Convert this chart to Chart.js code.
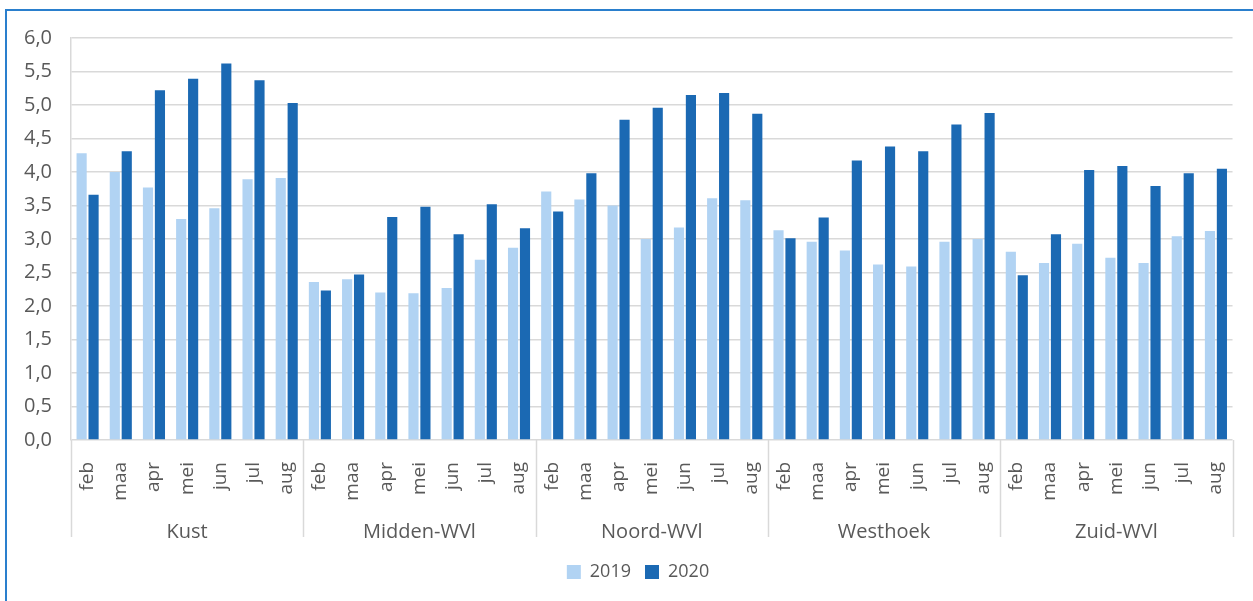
<!DOCTYPE html>
<html>
<head>
<meta charset="utf-8">
<script src="https://cdn.jsdelivr.net/npm/chart.js@4.4.1/dist/chart.umd.min.js"></script>
<style>
  html, body { margin: 0; padding: 0; background: #ffffff; }
  #wrap { position: relative; width: 1253px; height: 601px; overflow: hidden; }
  #frame { position: absolute; left: 5px; top: 9px; width: 1260px; height: 620px; border-left: 2px solid #2a7fcd; border-top: 2px solid #2a7fcd; box-sizing: border-box; pointer-events: none; }
  canvas { position: absolute; left: 0; top: 0; }
</style>
</head>
<body>
<div id="wrap">
  <canvas id="c" width="1253" height="601"></canvas>
  <div id="frame"></div>
</div>
<script>
const groups = ['Kust', 'Midden-WVl', 'Noord-WVl', 'Westhoek', 'Zuid-WVl'];
const months = ['feb', 'maa', 'apr', 'mei', 'jun', 'jul', 'aug'];
const seriesNames = ['2019', '2020'];
const values2019 = [
  4.28, 4.00, 3.77, 3.30, 3.46, 3.89, 3.91,
  2.36, 2.40, 2.20, 2.19, 2.27, 2.69, 2.87,
  3.71, 3.59, 3.50, 3.00, 3.17, 3.61, 3.58,
  3.13, 2.96, 2.83, 2.62, 2.59, 2.96, 3.00,
  2.81, 2.64, 2.93, 2.72, 2.64, 3.04, 3.12
];
const values2020 = [
  3.66, 4.31, 5.22, 5.39, 5.62, 5.37, 5.03,
  2.23, 2.47, 3.33, 3.48, 3.07, 3.52, 3.16,
  3.41, 3.98, 4.78, 4.96, 5.15, 5.18, 4.87,
  3.01, 3.32, 4.17, 4.38, 4.31, 4.71, 4.88,
  2.46, 3.07, 4.03, 4.09, 3.79, 3.98, 4.05
];
const yTicks = [0, 0.5, 1, 1.5, 2, 2.5, 3, 3.5, 4, 4.5, 5, 5.5, 6];

const labels = [];
groups.forEach(g => months.forEach(m => labels.push(m)));

const FONT = "'Open Sans', 'Noto Sans', sans-serif";
const TXT = '#595959';
const GRID = '#d9d9d9';

const separators = {
  id: 'separators',
  afterLayout(chart) {
    const lg = chart.legend;
    if (lg) {
      lg.left += 21;
      lg.right += 21;
    }
  },
  afterDraw(chart) {
    const x = chart.scales.x, x2 = chart.scales.x2, ctx = chart.ctx;
    const n = months.length;
    const top = chart.chartArea.bottom;
    const bottom = x2.top + 31;
    ctx.save();
    ctx.strokeStyle = GRID;
    ctx.lineWidth = 1.5;
    for (let g = 0; g <= groups.length; g++) {
      let px;
      if (g === 0) px = x.left;
      else if (g === groups.length) px = x.right;
      else px = (x.getPixelForValue(g * n - 1) + x.getPixelForValue(g * n)) / 2;
      ctx.beginPath();
      ctx.moveTo(Math.round(px) + 0.5, top);
      ctx.lineTo(Math.round(px) + 0.5, bottom);
      ctx.stroke();
    }
    ctx.restore();
  }
};

new Chart(document.getElementById('c'), {
  type: 'bar',
  data: {
    labels: labels,
    datasets: [
      { label: seriesNames[0], data: values2019, backgroundColor: '#b1d3f3', xAxisID: 'x', categoryPercentage: 0.72, barPercentage: 0.85 },
      { label: seriesNames[1], data: values2020, backgroundColor: '#1b69b3', xAxisID: 'x', categoryPercentage: 0.72, barPercentage: 0.85 }
    ]
  },
  options: {
    responsive: false,
    animation: false,
    layout: { padding: { left: 0, right: 19, top: 38, bottom: 10 } },
    plugins: {
      legend: {
        position: 'bottom',
        labels: {
          boxWidth: 14, boxHeight: 14, padding: 14,
          color: TXT, font: { family: FONT, size: 18 }
        }
      },
      tooltip: { enabled: false }
    },
    scales: {
      y: {
        min: 0, max: 6,
        afterBuildTicks: s => { s.ticks = yTicks.map(v => ({ value: v })); },
        afterFit: s => { s.width = 71; },
        ticks: {
          padding: 19, color: TXT, font: { family: FONT, size: 20 },
          callback: v => Number(v).toFixed(1).replace('.', ',')
        },
        grid: { color: GRID, lineWidth: 1.5, drawTicks: false },
        border: { display: true, color: GRID, width: 1.5 }
      },
      x: {
        position: 'bottom',
        afterFit: s => { s.height = 66; },
        ticks: {
          autoSkip: false, maxRotation: 90, minRotation: 90, padding: 14,
          color: TXT, font: { family: FONT, size: 19 }
        },
        grid: { display: false },
        border: { display: false }
      },
      x2: {
        type: 'category',
        position: 'bottom',
        labels: groups,
        offset: true,
        afterFit: s => { s.height = 43; },
        ticks: { padding: 6, color: TXT, font: { family: FONT, size: 20 } },
        grid: { display: false },
        border: { display: false }
      }
    }
  },
  plugins: [separators]
});
</script>
</body>
</html>
